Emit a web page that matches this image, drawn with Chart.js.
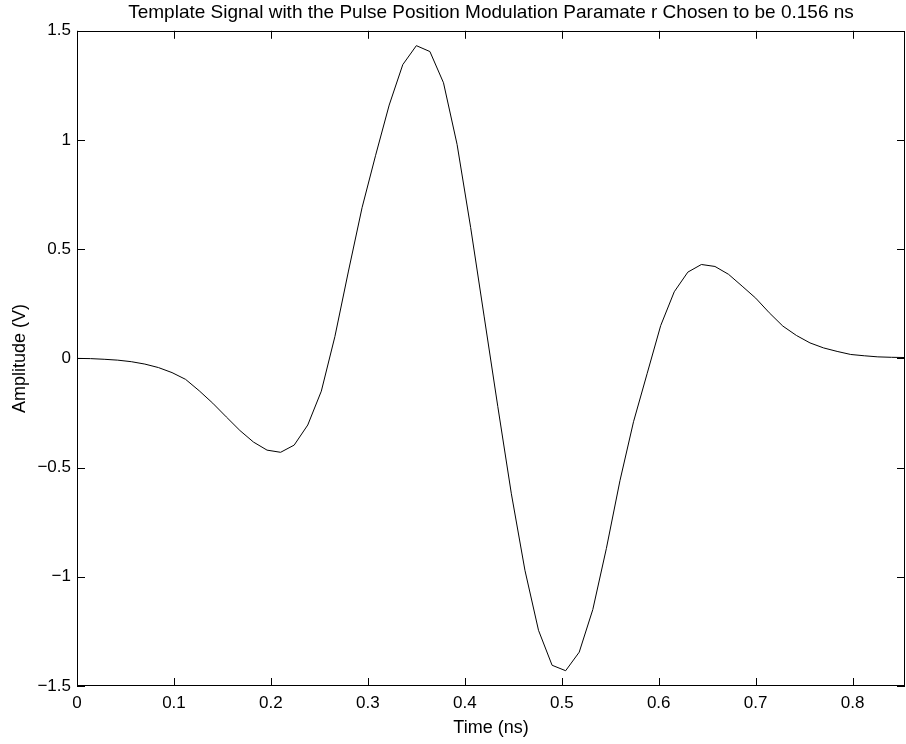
<!DOCTYPE html>
<html>
<head>
<meta charset="utf-8">
<title>Template Signal</title>
<script src="https://cdn.jsdelivr.net/npm/chart.js@4/dist/chart.umd.min.js"></script>
<style>
  html, body { margin: 0; padding: 0; background: #fff; }
  #contenedor { position: relative; width: 906px; height: 744px; }
</style>
</head>
<body>
<div id="contenedor"><canvas id="grafica"></canvas></div>
<script>
// muestras de la senal plantilla (tiempo en ns, amplitud en V)
var tiempos = [0, 0.014, 0.028, 0.042, 0.056, 0.070, 0.084, 0.098, 0.112, 0.126,
  0.140, 0.154, 0.168, 0.182, 0.196, 0.210, 0.224, 0.238, 0.252, 0.266,
  0.280, 0.294, 0.308, 0.322, 0.336, 0.350, 0.364, 0.378, 0.392, 0.406,
  0.420, 0.434, 0.448, 0.462, 0.476, 0.490, 0.504, 0.518, 0.532, 0.546,
  0.560, 0.574, 0.588, 0.602, 0.616, 0.630, 0.644, 0.658, 0.672, 0.686,
  0.700, 0.714, 0.728, 0.742, 0.756, 0.770, 0.784, 0.798, 0.812, 0.826,
  0.840, 0.854];
var amplitud = [0, -0.001, -0.004, -0.008, -0.015, -0.026, -0.042, -0.065, -0.096, -0.148,
  -0.205, -0.268, -0.330, -0.383, -0.420, -0.430, -0.397, -0.305, -0.150, 0.100,
  0.400, 0.690, 0.930, 1.160, 1.345, 1.432, 1.405, 1.262, 0.980, 0.600,
  0.190, -0.220, -0.620, -0.970, -1.245, -1.405, -1.430, -1.345, -1.150, -0.870,
  -0.560, -0.290, -0.070, 0.150, 0.305, 0.395, 0.430, 0.421, 0.385, 0.331,
  0.276, 0.209, 0.148, 0.105, 0.071, 0.048, 0.032, 0.018, 0.012, 0.007,
  0.005, 0.004];

var ticksX = [0, 0.1, 0.2, 0.3, 0.4, 0.5, 0.6, 0.7, 0.8];
var ticksY = [-1.5, -1, -0.5, 0, 0.5, 1, 1.5];

var titulo = 'Template Signal with the Pulse Position Modulation Paramate r Chosen to be 0.156 ns';
var tituloX = 'Time (ns)';
var tituloY = 'Amplitude (V)';

var puntos = tiempos.map(function(t, i) { return {x: t, y: amplitud[i]}; });

function etiqueta(v) {
  var s = String(Math.round(v * 10) / 10);
  return s.replace('-', '\u2212');
}

// caja de ejes con marcas hacia adentro en los cuatro lados
var marcoEjes = {
  id: 'marcoEjes',
  afterDraw: function(chart) {
    var ctx = chart.ctx;
    var a = chart.chartArea;
    var sx = chart.scales.x, sy = chart.scales.y;
    var largo = 8;
    ctx.save();
    ctx.strokeStyle = '#000';
    ctx.lineWidth = 1;
    ctx.beginPath();
    ticksX.forEach(function(v) {
      var px = Math.round(sx.getPixelForValue(v)) + 0.5;
      ctx.moveTo(px, a.bottom);
      ctx.lineTo(px, a.bottom - largo);
      ctx.moveTo(px, a.top);
      ctx.lineTo(px, a.top + largo);
    });
    ticksY.forEach(function(v) {
      var py = Math.round(sy.getPixelForValue(v)) + 0.5;
      ctx.moveTo(a.left, py);
      ctx.lineTo(a.left + largo, py);
      ctx.moveTo(a.right, py);
      ctx.lineTo(a.right - largo, py);
    });
    ctx.stroke();
    ctx.strokeRect(Math.round(a.left) + 0.5, Math.round(a.top) + 0.5,
      Math.round(a.right - a.left) - 1, Math.round(a.bottom - a.top) - 1);
    ctx.restore();
  }
};

Chart.defaults.font.family = "'Liberation Sans', Arial, Helvetica, sans-serif";
Chart.defaults.color = '#000';

new Chart(document.getElementById('grafica'), {
  type: 'line',
  data: {
    datasets: [{
      data: puntos,
      borderColor: '#000',
      borderWidth: 1,
      pointRadius: 0,
      tension: 0,
      fill: false
    }]
  },
  options: {
    responsive: true,
    maintainAspectRatio: false,
    devicePixelRatio: 1,
    animation: false,
    layout: { padding: { left: 0, right: 1, top: 0, bottom: 0 } },
    plugins: {
      legend: { display: false },
      tooltip: { enabled: false },
      title: {
        display: true,
        text: titulo,
        fullSize: false,
        color: '#000',
        font: { size: 19, weight: 'normal' },
        padding: { top: 1, bottom: 7 }
      }
    },
    scales: {
      x: {
        type: 'linear',
        min: 0,
        max: 0.854,
        grid: { display: false, drawTicks: false },
        border: { display: false },
        afterBuildTicks: function(scale) {
          scale.ticks = ticksX.map(function(v) { return {value: v}; });
        },
        afterFit: function(scale) { scale.height = 58; },
        ticks: {
          padding: 7,
          font: { size: 17 },
          maxRotation: 0,
          callback: function(v) { return etiqueta(v); }
        },
        title: {
          display: true,
          text: tituloX,
          font: { size: 18 },
          padding: { top: 2, bottom: 5 }
        }
      },
      y: {
        type: 'linear',
        min: -1.5,
        max: 1.5,
        grid: { display: false, drawTicks: false },
        border: { display: false },
        afterBuildTicks: function(scale) {
          scale.ticks = ticksY.map(function(v) { return {value: v}; });
        },
        afterFit: function(scale) { scale.width = 77; },
        ticks: {
          padding: 6,
          font: { size: 17 },
          callback: function(v) { return etiqueta(v); }
        },
        title: {
          display: true,
          text: tituloY,
          font: { size: 18 },
          padding: { top: 9, bottom: 2 }
        }
      }
    }
  },
  plugins: [marcoEjes]
});
</script>
</body>
</html>
